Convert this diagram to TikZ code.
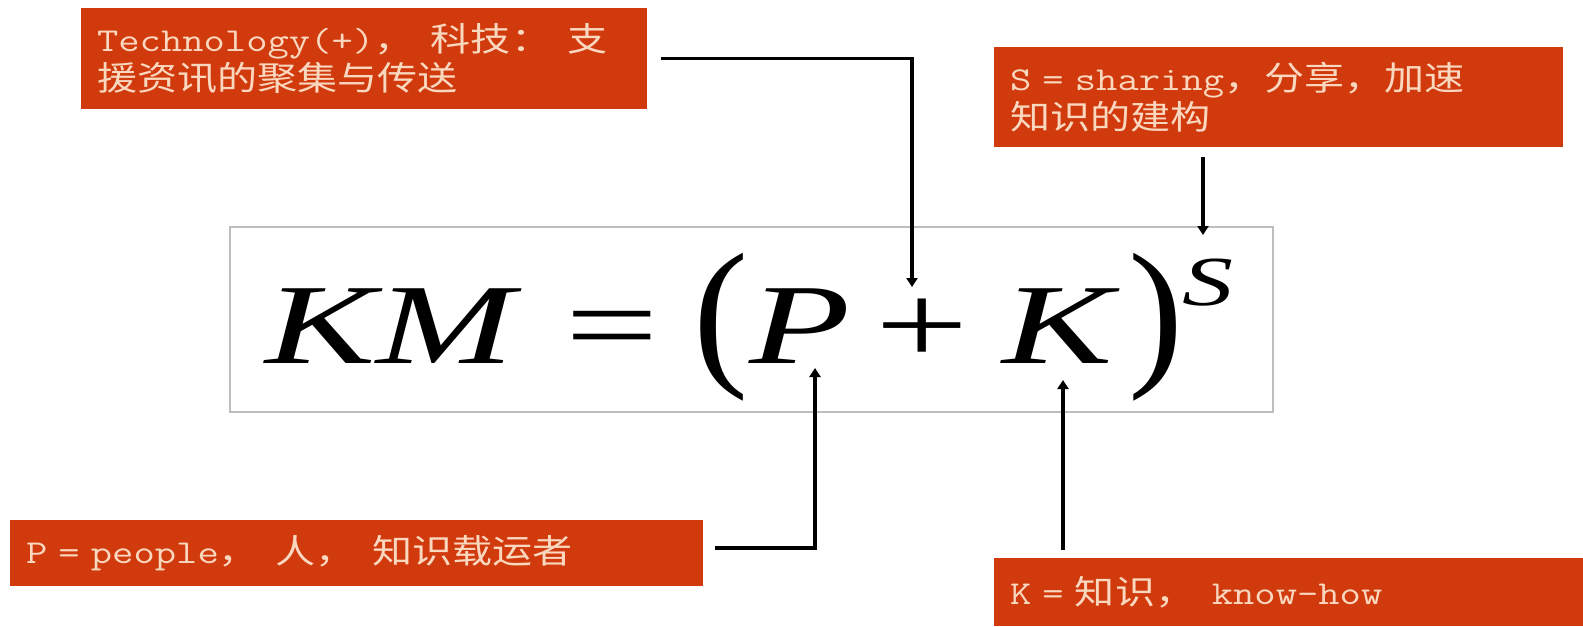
\documentclass[tikz,border=0pt]{standalone}
\usepackage{fontspec}
\usepackage{graphicx}
\setmainfont{Liberation Serif}
\newfontfamily\cjk[FakeStretch=1.2]{Noto Sans CJK SC}
\newfontfamily\lat[FakeStretch=1.24]{Latin Modern Mono}
\newfontfamily\fml[FakeStretch=1.45]{Liberation Serif}
\usetikzlibrary{arrows.meta,positioning,calc}
\definecolor{boxred}{RGB}{208,58,12}
\definecolor{boxtext}{RGB}{250,216,192}
\definecolor{framegray}{RGB}{190,190,190}

\begin{document}
\begin{tikzpicture}[x=0.02cm,y=-0.02cm,
        note/.style={fill=boxred,text=boxtext,align=left,inner xsep=0.32cm,
            font=\lat\fontsize{19}{22}\selectfont},
        sym/.style={inner sep=0pt,font=\fml\fontsize{65}{70}\selectfont},
        link/.style={line width=1.9pt,-{Triangle[length=0.18cm,width=0.22cm]}}]
        \useasboundingbox (0,0) rectangle (1583,626);

        % Formula
        \node[draw=framegray,line width=0.8pt,minimum width=20.86cm,minimum height=3.7cm] (frame) at (751.5,319.5) {};
        \node[sym,anchor=base] (km) at (390,363) {\itshape KM};
        \node[sym,anchor=base] (eq) at (612,363) {=};
        \node[sym] (lpar) at (721,327) {\scalebox{1}[1.43]{(}};
        \node[sym,anchor=base] (p) at (800,363) {\itshape P};
        \node[sym,anchor=base] (plus) at (922,363) {+};
        \node[sym,anchor=base] (k) at (1058,363) {\itshape K};
        \node[sym] (rpar) at (1156,327) {\scalebox{1}[1.43]{)}};
        \node[sym,anchor=base,font=\fml\fontsize{40}{44}\selectfont] (s) at (1208,305) {\itshape S};

        % Notes
        \node[note,text width=10.68cm,minimum height=2.02cm] (tech) at (364,58.5)
            {Technology(+){\cjk ，\enspace 科技：\enspace 支}\\{\cjk 援资讯的聚集与传送}};
        \node[note,text width=10.74cm,minimum height=2cm] (share) at (1278.5,97)
            {S = sharing{\cjk ，分享，加速}\\{\cjk 知识的建构}};
        \node[note,text width=13.22cm,minimum height=1.32cm] (people) at (356.5,553)
            {P = people{\cjk ，\enspace 人，\enspace 知识载运者}};
        \node[note,text width=11.14cm,minimum height=1.36cm] (know) at (1288.5,592)
            {K = {\cjk 知识，\enspace}know-how};

        % Arrows
        \coordinate (techend) at (912,287);
        \coordinate (sharend) at (1203,235);
        \coordinate (pend) at (815,368);
        \coordinate (kend) at (1063,380);
        \draw[link] ([xshift=0.28cm]tech.east) -| (techend);
        \draw[link] ($(share.south -| sharend)+(0,10)$) -- (sharend);
        \draw[link] ([xshift=0.24cm,yshift=0.1cm]people.east) -| (pend);
        \draw[link] ($(know.north -| kend)+(0,-8)$) -- (kend);
\end{tikzpicture}
\end{document}
